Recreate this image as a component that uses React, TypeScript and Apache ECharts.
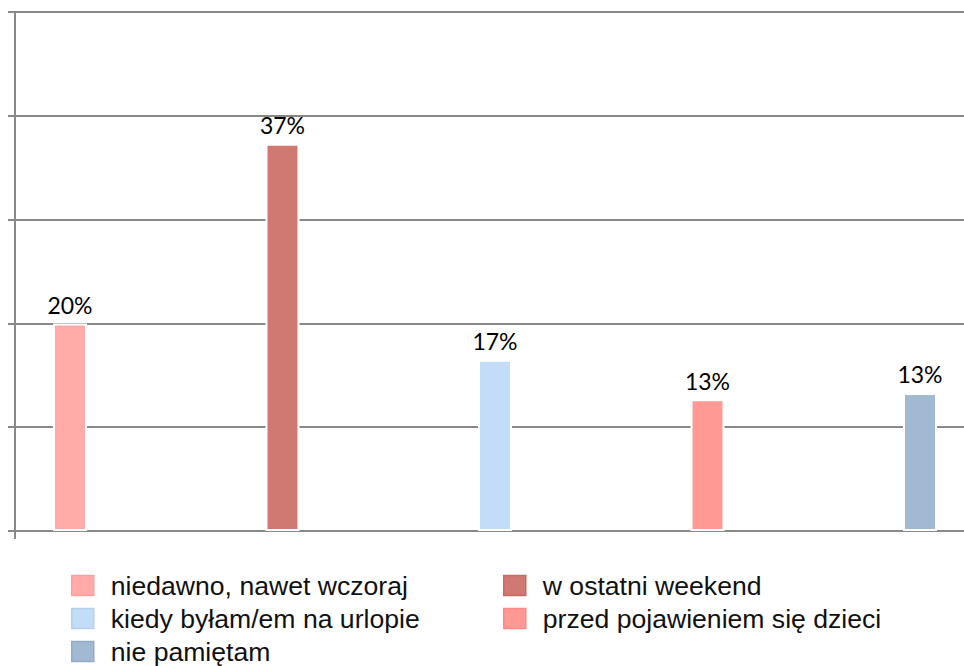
import React, { useEffect, useRef } from "react";
import * as echarts from "echarts";

const categories = [
  "niedawno, nawet wczoraj",
  "w ostatni weekend",
  "kiedy byłam/em na urlopie",
  "przed pojawieniem się dzieci",
  "nie pamiętam",
];
const values = [20.0, 37.3, 16.5, 12.7, 13.3];
const colors = ["#FFABA8", "#D07872", "#C3DCF7", "#FF9994", "#A1B9D2"];
const borderColors = ["#FF9F9C", "#C86A64", "#B4D0F0", "#FF8A85", "#93ACC8"];
const legendLeft = [categories[0], categories[2], categories[4]];
const legendRight = [categories[1], categories[3]];
const yTicks = [0, 10, 20, 30, 40, 50];

export default function App() {
  const ref = useRef<HTMLDivElement>(null);
  useEffect(() => {
    document.body.style.margin = "0";
    const chart = echarts.init(ref.current!, null, { renderer: "svg" });
    const series = categories.map((name, i) => ({
      name,
      type: "bar",
      data: [values[i]],
      barWidth: 34,
      barGap: "525%",
      itemStyle: { color: colors[i], borderColor: "#ffffff", borderWidth: 2 },
      label: {
        show: true,
        position: "top",
        distance: 7,
        color: "#000",
        fontFamily: "Lato",
        fontSize: 23,
        formatter: (p: any) => Math.round(p.value) + "%",
      },
    }));
    const legendCommon = {
      orient: "vertical",
      top: 572,
      padding: 0,
      itemWidth: 22,
      itemHeight: 20,
      itemGap: 6,
      icon: "rect",
      selectedMode: false,
      textStyle: {
        color: "#111",
        fontFamily: "Liberation Sans, Arial",
        fontSize: 26.6,
        padding: [0, 0, 0, 12],
      },
    };
    chart.setOption({
      animation: false,
      color: colors,
      legend: [
        {
          ...legendCommon,
          left: 71,
          data: legendLeft.map((n) => ({
            name: n,
            itemStyle: { borderColor: borderColors[categories.indexOf(n)], borderWidth: 1.5 },
          })),
        },
        {
          ...legendCommon,
          left: 503,
          data: legendRight.map((n) => ({
            name: n,
            itemStyle: { borderColor: borderColors[categories.indexOf(n)], borderWidth: 1.5 },
          })),
        },
      ],
      grid: { left: 15, right: 1, top: 12, bottom: 169, containLabel: false },
      xAxis: {
        type: "category",
        data: [""],
        boundaryGap: true,
        axisLine: { show: true, lineStyle: { color: "#888", width: 2 } },
        axisTick: { show: true, length: 8, lineStyle: { color: "#888", width: 2 } },
        axisLabel: { show: false },
      },
      yAxis: {
        type: "value",
        min: yTicks[0],
        max: yTicks[yTicks.length - 1],
        interval: 10,
        axisLine: { show: true, lineStyle: { color: "#888", width: 2 } },
        axisTick: { show: true, length: 7, lineStyle: { color: "#888", width: 2 } },
        axisLabel: { show: false },
        splitLine: { show: true, lineStyle: { color: "#888", width: 2 } },
      },
      series,
    });
    return () => chart.dispose();
  }, []);
  return (
    <div style={{ width: 964, height: 666, overflow: "hidden", position: "relative", background: "#fff" }}>
      <div ref={ref} style={{ width: 976, height: 700 }} />
    </div>
  );
}
